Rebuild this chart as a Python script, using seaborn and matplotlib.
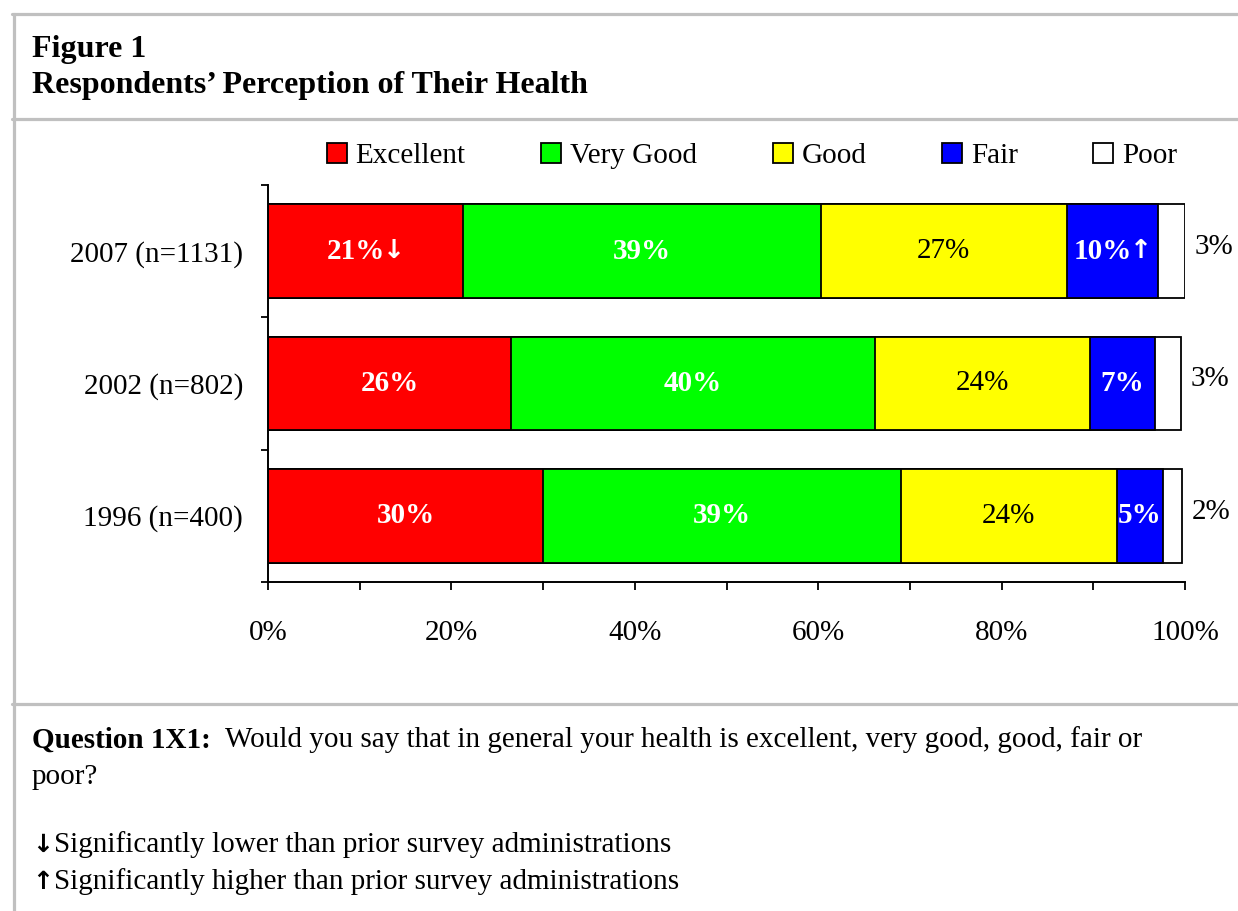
import matplotlib
matplotlib.use("Agg")
import matplotlib.pyplot as plt
import seaborn as sns
import pandas as pd
import numpy as np
from matplotlib.patches import Patch
from matplotlib.lines import Line2D
from matplotlib.ticker import MultipleLocator, FuncFormatter

# ---------------- data ----------------
years = ["2007 (n=1131)", "2002 (n=802)", "1996 (n=400)"]
categories = ["Excellent", "Very Good", "Good", "Fair", "Poor"]
excellent = [21.3, 26.5, 30.0]
very_good = [39.0, 39.7, 39.0]
good = [26.8, 23.4, 23.6]
fair = [10.0, 7.1, 5.0]
poor = [2.9, 2.9, 2.1]
excellent_labels = ["21%", "26%", "30%"]
excellent_marks = ["\u2193", "", ""]
very_good_labels = ["39%", "40%", "39%"]
good_labels = ["27%", "24%", "24%"]
fair_labels = ["10%", "7%", "5%"]
fair_marks = ["\u2191", "", ""]
poor_labels = ["3%", "3%", "2%"]
x_ticks_label_every = 20

colors = ["#ff0000", "#00ff00", "#ffff00", "#0000ff", "#ffffff"]
label_colors = ["white", "white", "black", "white", None]
label_weights = ["bold", "bold", "normal", "bold", None]

sns.set_style("ticks")
plt.rcParams["font.family"] = ["Liberation Serif", "DejaVu Serif"]
for key in ["text.color", "axes.labelcolor", "xtick.color", "ytick.color",
            "axes.edgecolor"]:
    plt.rcParams[key] = "black"
FS = 21
ARROW_FONT = "DejaVu Sans"

W, H = 1238, 911
fig = plt.figure(figsize=(W / 100, H / 100), dpi=100)
fig.patch.set_facecolor("white")

ax = fig.add_axes([268 / W, 1 - 582 / H, (1185 - 268) / W, (582 - 185) / H])

values = [excellent, very_good, good, fair, poor]
labels = [excellent_labels, very_good_labels, good_labels, fair_labels, poor_labels]
marks = [excellent_marks, ["", "", ""], ["", "", ""], fair_marks, ["", "", ""]]
cum = np.cumsum(np.array(values), axis=0)  # cumulative right edges

# draw cumulative bars from the total back to the first category
for k in range(len(categories) - 1, -1, -1):
    df = pd.DataFrame({"year": years, "value": cum[k]})
    sns.barplot(data=df, x="value", y="year", orient="h", color=colors[k],
                saturation=1, edgecolor="black", linewidth=1.3, width=0.71,
                ax=ax, zorder=2 + (len(categories) - k))

fig.canvas.draw()
renderer = fig.canvas.get_renderer()

# segment labels (number + optional significance arrow)
for k in range(len(categories) - 1):
    for i in range(len(years)):
        left = cum[k][i] - values[k][i]
        xc = left + values[k][i] / 2
        if marks[k][i]:
            t = ax.text(0, 0, labels[k][i], fontsize=FS, fontweight="bold")
            a = ax.text(0, 0, marks[k][i], fontsize=FS - 2, fontweight="bold",
                        family=ARROW_FONT)
            wt = t.get_window_extent(renderer).width
            wa = a.get_window_extent(renderer).width
            t.remove(); a.remove()
            total = wt + wa - 2
            ax.annotate(labels[k][i], xy=(xc, i), xytext=(-total / 2, 0),
                        textcoords="offset pixels", ha="left", va="center",
                        color=label_colors[k], fontsize=FS,
                        fontweight=label_weights[k], zorder=20)
            ax.annotate(marks[k][i], xy=(xc, i), xytext=(-total / 2 + wt - 2, 0),
                        textcoords="offset pixels", ha="left", va="center",
                        color=label_colors[k], fontsize=FS - 2, fontweight="bold",
                        family=ARROW_FONT, zorder=20)
        else:
            ax.text(xc, i, labels[k][i], ha="center", va="center",
                    color=label_colors[k], fontsize=FS,
                    fontweight=label_weights[k], zorder=20)
# poor labels outside
for i in range(len(years)):
    ax.annotate(poor_labels[i], xy=(cum[-1][i], i), xytext=(7, 3),
                textcoords="offset points", ha="left", va="center",
                fontsize=FS, color="black", annotation_clip=False)

ax.set_xlim(0, 100)
ax.set_ylim(2.5, -0.5)
ax.xaxis.set_major_locator(MultipleLocator(10))
ax.xaxis.set_major_formatter(FuncFormatter(
    lambda v, p: f"{v:.0f}%" if int(round(v)) % x_ticks_label_every == 0 else ""))
ax.set_yticks(range(len(years)))
ax.set_yticklabels(years)
ax.set_yticks([-0.5, 0.5, 1.5, 2.5], minor=True)
ax.tick_params(axis="y", which="major", length=0, pad=18, labelsize=FS)
ax.tick_params(axis="y", which="minor", length=5, width=1.3, color="black")
ax.tick_params(axis="x", which="major", length=6, width=1.3, pad=21, labelsize=FS,
               color="black")
ax.set_xlabel("")
ax.set_ylabel("")
for s in ["top", "right"]:
    ax.spines[s].set_visible(False)
for s in ["left", "bottom"]:
    ax.spines[s].set_linewidth(1.4)
    ax.spines[s].set_color("black")
    ax.spines[s].set_zorder(30)

# legend
handles = [Patch(facecolor=c, edgecolor="black", linewidth=1.3) for c in colors]
fig.legend(handles, categories, loc="center", bbox_to_anchor=(752 / W, 1 - 156 / H),
           ncol=5, frameon=False, fontsize=FS, handlelength=0.68, handleheight=0.68,
           handletextpad=0.3, columnspacing=2.6, borderpad=0)

# frame lines
lc = "#c0c0c0"
lw = 2.3
fig.add_artist(Line2D([12 / W, 1], [1 - 14 / H, 1 - 14 / H], color=lc, lw=lw))
fig.add_artist(Line2D([14 / W, 14 / W], [0, 1 - 14 / H], color=lc, lw=lw))
fig.add_artist(Line2D([12 / W, 1], [1 - 119 / H, 1 - 119 / H], color=lc, lw=lw))
fig.add_artist(Line2D([12 / W, 1], [1 - 704 / H, 1 - 704 / H], color=lc, lw=lw))

# title texts
fig.text(32 / W, 1 - 50 / H, "Figure 1", fontsize=FS + 2, fontweight="bold", va="center")
fig.text(32 / W, 1 - 86 / H, "Respondents\u2019 Perception of Their Health",
         fontsize=FS + 2, fontweight="bold", va="center")

# footer texts
q = fig.text(32 / W, 1 - 740 / H, "Question 1X1:", fontsize=FS, fontweight="bold",
             va="center")
bb = q.get_window_extent(renderer)
fig.text((bb.x1 + 14) / W, 1 - 740 / H,
         "Would you say that in general your health is excellent, very good, good, fair or",
         fontsize=FS, va="center")
fig.text(32 / W, 1 - 777 / H, "poor?", fontsize=FS, va="center")
for yy, arrow, txt in [(845, "\u2193", "Significantly lower than prior survey administrations"),
                       (882, "\u2191", "Significantly higher than prior survey administrations")]:
    a = fig.text(32 / W, 1 - yy / H, arrow, fontsize=FS - 3, fontweight="bold",
                 family=ARROW_FONT, va="center")
    ab = a.get_window_extent(renderer)
    fig.text((ab.x1 + 1) / W, 1 - yy / H, txt, fontsize=FS, va="center")

fig.savefig("out.png", dpi=100, facecolor="white")
